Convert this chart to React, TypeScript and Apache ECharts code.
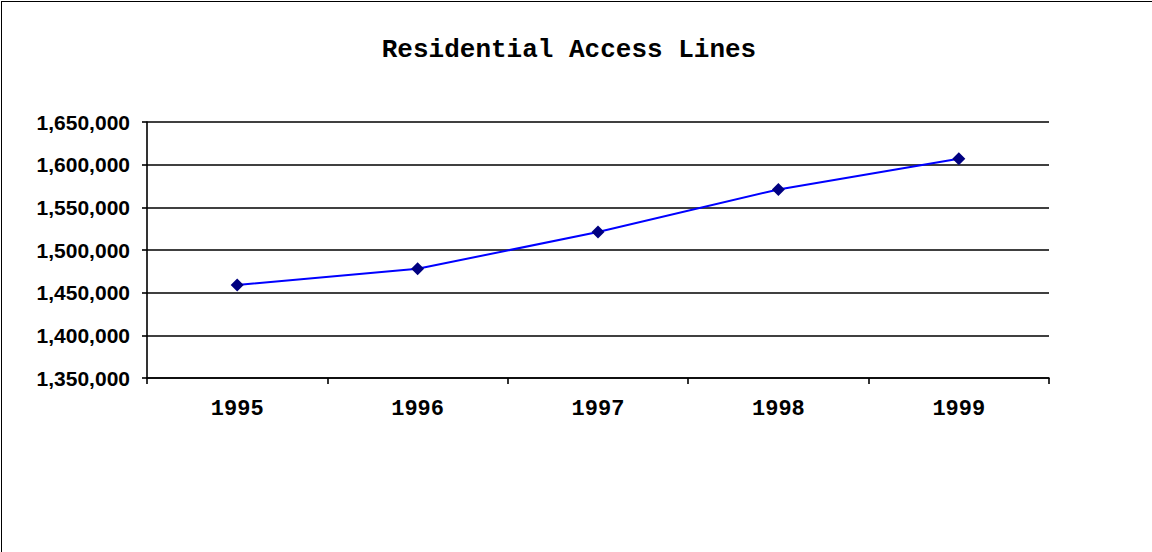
import React, { useEffect, useRef } from "react";
import * as echarts from "echarts";

const categories = ["1995", "1996", "1997", "1998", "1999"];
const accessLines = [1459000, 1478000, 1521000, 1571000, 1607000];
const yMin = 1350000;
const yMax = 1650000;
const yStep = 50000;
const titleText = "Residential Access Lines";

function fmt(v: number): string {
  return String(Math.round(v)).replace(/\B(?=(\d{3})+(?!\d))/g, ",");
}

export default function App() {
  const ref = useRef<HTMLDivElement>(null);
  useEffect(() => {
    if (!ref.current) return;
    const chart = echarts.init(ref.current, undefined, { renderer: "svg" });
    chart.setOption({
      animation: false,
      backgroundColor: "#ffffff",
      title: {
        text: titleText,
        left: 564,
        textAlign: "center",
        top: 32,
        textStyle: {
          fontFamily: "Liberation Mono",
          fontWeight: "bold",
          fontSize: 26,
          color: "#000",
        },
      },
      grid: { left: 147, top: 122, right: 103, bottom: 174, containLabel: false },
      xAxis: {
        type: "category",
        data: categories,
        boundaryGap: true,
        axisLine: { show: true, lineStyle: { color: "#000", width: 1.6 } },
        axisTick: { show: true, length: 6, lineStyle: { color: "#000", width: 1.6 } },
        axisLabel: {
          margin: 20,
          fontFamily: "Liberation Mono",
          fontWeight: "bold",
          fontSize: 22,
          color: "#000",
        },
        splitLine: { show: false },
      },
      yAxis: {
        type: "value",
        min: yMin,
        max: yMax,
        interval: yStep,
        axisLine: { show: true, lineStyle: { color: "#000", width: 1.6 } },
        axisTick: { show: true, length: 5, lineStyle: { color: "#000", width: 1.6 } },
        axisLabel: {
          margin: 17,
          formatter: (v: number) => fmt(v),
          fontFamily: "Liberation Sans",
          fontWeight: "bold",
          fontSize: 21,
          color: "#000",
        },
        splitLine: { show: true, lineStyle: { color: "#000", width: 1.6 } },
      },
      series: [
        {
          type: "line",
          data: accessLines,
          symbol: "diamond",
          symbolSize: 13,
          lineStyle: { color: "#0000FF", width: 2 },
          itemStyle: { color: "#000080" },
          z: 5,
        },
      ],
    });
    return () => chart.dispose();
  }, []);
  return (
    <div style={{ position: "fixed", left: 0, top: 0, width: 1152, height: 552, background: "#fff" }}>
      <div ref={ref} style={{ position: "absolute", left: 0, top: 0, width: 1152, height: 552 }} />
      <div
        style={{
          position: "absolute",
          left: 1,
          top: 1,
          width: 1151,
          height: 551,
          borderLeft: "1.5px solid #000",
          borderTop: "1.5px solid #000",
          boxSizing: "border-box",
          pointerEvents: "none",
        }}
      />
    </div>
  );
}
